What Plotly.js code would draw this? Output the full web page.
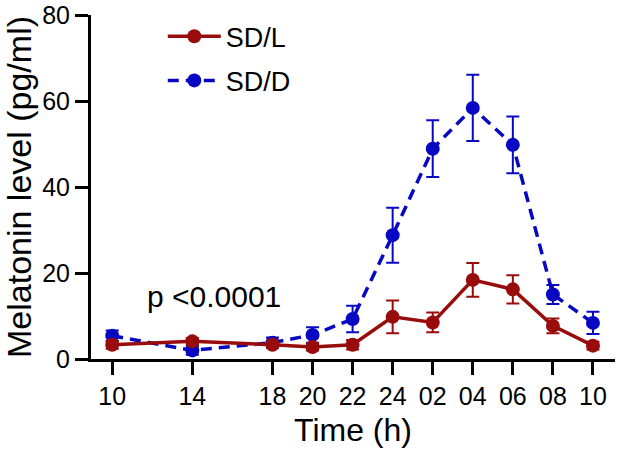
<!DOCTYPE html>
<html>
<head>
<meta charset="utf-8">
<script src="https://cdn.plot.ly/plotly-3.0.1.min.js"></script>
<style>
  html, body { margin: 0; padding: 0; background: #ffffff; }
  #chart { width: 617px; height: 456px; }
</style>
</head>
<body>
<div id="chart"></div>
<script>
// Sampling times as hours from 10:00 on day 1 (24 = midnight, 34 = 10:00 next day)
const timeHours = [10, 14, 18, 20, 22, 24, 26, 28, 30, 32, 34];
const tickText = ['10', '14', '18', '20', '22', '24', '02', '04', '06', '08', '10'];
const yTicks = [0, 20, 40, 60, 80];

// Plasma melatonin (pg/ml), mean and SEM
const sdlMean = [3.3, 4.1, 3.3, 2.8, 3.3, 9.8, 8.5, 18.4, 16.2, 7.7, 3.1];
const sdlSem  = [0.9, 0.8, 0.7, 0.8, 1.1, 3.8, 2.3, 3.9, 3.3, 1.7, 0.9];
const sddMean = [5.4, 2.0, 3.8, 5.6, 9.3, 28.8, 48.9, 58.4, 49.8, 15.0, 8.4];
const sddSem  = [1.2, 1.0, 1.2, 1.8, 3.1, 6.4, 6.6, 7.7, 6.6, 2.2, 2.6];

const RED = '#990c0c';
const BLUE = '#0808c2';
const FONT = 'Arial, "Liberation Sans", sans-serif';

const sdd = {
  x: timeHours, y: sddMean, name: 'SD/D', type: 'scatter', mode: 'lines+markers',
  legendgroup: 'd', legendrank: 2,
  line: { color: BLUE, width: 3.5, dash: '11px,7px' },
  marker: { color: BLUE, size: 14 },
  error_y: { type: 'data', array: sddSem, visible: true, color: BLUE, thickness: 2, width: 6.5 }
};

const sdl = {
  x: timeHours, y: sdlMean, name: 'SD/L', type: 'scatter', mode: 'lines+markers',
  legendgroup: 'l', legendrank: 1,
  line: { color: RED, width: 3.5 },
  marker: { color: RED, size: 14 },
  error_y: { type: 'data', array: sdlSem, visible: true, color: RED, thickness: 2, width: 6.5 }
};

const layout = {
  width: 617, height: 456,
  margin: { l: 91, r: 2, t: 15, b: 97 },
  paper_bgcolor: '#ffffff', plot_bgcolor: '#ffffff',
  font: { family: FONT, color: '#000000' },
  showlegend: true,
  legend: {
    x: 0.137, y: 1.008, xanchor: 'left', yanchor: 'top',
    font: { family: FONT, size: 27, color: '#000000' },
    itemwidth: 53, tracegroupgap: 6, bgcolor: 'rgba(0,0,0,0)'
  },
  xaxis: {
    range: [8.94, 35.1], tickmode: 'array', tickvals: timeHours, ticktext: tickText,
    showline: true, linecolor: '#000000', linewidth: 3,
    ticks: 'outside', ticklen: 13, tickwidth: 3, tickcolor: '#000000',
    tickfont: { family: FONT, size: 25 }, showgrid: false, zeroline: false,
    ticklabeloverflow: 'allow',
    title: { text: 'Time (h)', font: { family: FONT, size: 32 }, standoff: 10 }
  },
  yaxis: {
    range: [0, 80], tickmode: 'array', tickvals: yTicks,
    showline: true, linecolor: '#000000', linewidth: 3,
    ticks: 'outside', ticklen: 13, tickwidth: 3, tickcolor: '#000000',
    tickfont: { family: FONT, size: 25 }, showgrid: false, zeroline: false,
    ticklabeloverflow: 'allow',
    title: { text: 'Melatonin level (pg/ml)', font: { family: FONT, size: 34 }, standoff: 10 }
  },
  annotations: [{
    x: 15.1, y: 14.6, xref: 'x', yref: 'y', text: 'p <0.0001', showarrow: false,
    font: { family: FONT, size: 30, color: '#000000' }
  }]
};

Plotly.newPlot('chart', [sdd, sdl], layout, { displayModeBar: false, staticPlot: true });
</script>
</body>
</html>
